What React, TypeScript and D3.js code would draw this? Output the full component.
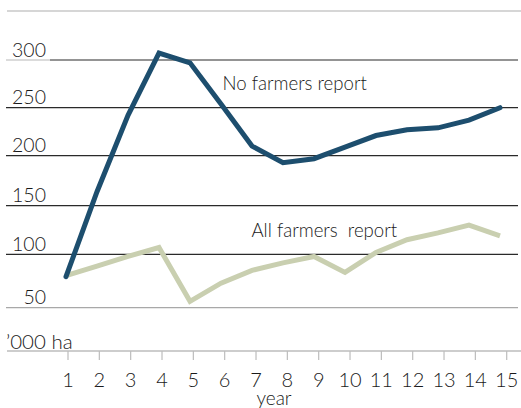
import React from "react";
import * as d3 from "d3";

const years = [1, 2, 3, 4, 5, 6, 7, 8, 9, 10, 11, 12, 13, 14, 15];
const noFarmers = [79, 164, 242, 307, 297, 254, 210, 193, 197, 209, 221, 227, 229, 237, 250];
const allFarmers = [80, 89, 98, 107, 56, 73, 85, 92, 98, 83, 102, 115, 122, 130, 119];
const yTicks = [50, 100, 150, 200, 250, 300];
const seriesLabels = ["No farmers report", "All farmers  report"];
const unitLabel = "\u2019000 ha";
const xTitle = "year";

const W = 521;
const H = 408;
const FONT = "Lato, 'Open Sans', sans-serif";
const TXT = "#1a1a1a";

export default function App() {
  // y positions follow the reference's gridline spacing
  const y = d3
    .scaleLinear()
    .domain([0, 50, 100, 150, 200, 250, 300, 350])
    .range([351, 307.7, 254.3, 205.7, 155.7, 107.7, 60, 11]);
  const xTick = d3.scaleLinear().domain([1, 15]).range([68, 506.7]);
  const xData = d3.scaleLinear().domain([1, 15]).range([66, 500]);

  const line = d3
    .line<number>()
    .x((_, i) => xData(years[i]))
    .y((d) => y(d));

  const gridColor = (v: number) => (v === 50 ? "#a8a8a8" : v === 300 ? "#707070" : "#2a2a2a");

  return (
    <svg
      width={W}
      height={H}
      style={{ position: "absolute", left: 0, top: 0, background: "#fff" }}
      fontFamily={FONT}
    >
      {/* top rule */}
      <line x1={7} x2={W} y1={y(350)} y2={y(350)} stroke="#c8c8c8" strokeWidth={1.5} />
      {/* gridlines */}
      {yTicks.map((v) => (
        <g key={v}>
          <line x1={6} x2={50} y1={y(v)} y2={y(v)} stroke={v === 300 ? "#cfcfcf" : gridColor(v)} strokeWidth={1.3} />
          <line x1={50} x2={518} y1={y(v)} y2={y(v)} stroke={gridColor(v)} strokeWidth={1.3} />
          <text
            x={46}
            y={y(v) - 3.3}
            textAnchor="end"
            fontSize={19.5}
            fontWeight={300}
            fill={TXT}
          >
            {v}
          </text>
        </g>
      ))}
      {/* axis line */}
      <line x1={7} x2={W} y1={y(0)} y2={y(0)} stroke="#bdbdbd" strokeWidth={1.5} />
      <text x={6} y={349} fontSize={20.5} fontWeight={300} fill={TXT}>
        {unitLabel}
      </text>
      {/* x ticks */}
      {years.map((t) => (
        <g key={t}>
          <line x1={xTick(t)} x2={xTick(t)} y1={y(0)} y2={y(0) + 9} stroke="#bdbdbd" strokeWidth={1.2} />
          <text x={xTick(t)} y={387} textAnchor="middle" fontSize={20} fontWeight={300} fill={TXT}>
            {t}
          </text>
        </g>
      ))}
      <text x={274} y={405} textAnchor="middle" fontSize={19} fontWeight={300} fill={TXT}>
        {xTitle}
      </text>
      {/* series */}
      <path d={line(allFarmers) || ""} fill="none" stroke="#c9cfb0" strokeWidth={5} strokeLinejoin="miter" />
      <path d={line(noFarmers) || ""} fill="none" stroke="#1d4e6e" strokeWidth={5} strokeLinecap="round" strokeLinejoin="miter" />
      {/* series labels */}
      <text x={222.5} y={90} fontSize={18.6} fontWeight={300} fill={TXT}>
        {seriesLabels[0]}
      </text>
      <text x={251.5} y={236.7} fontSize={18.6} fontWeight={300} fill={TXT} style={{ whiteSpace: "pre" }}>
        {seriesLabels[1]}
      </text>
    </svg>
  );
}
